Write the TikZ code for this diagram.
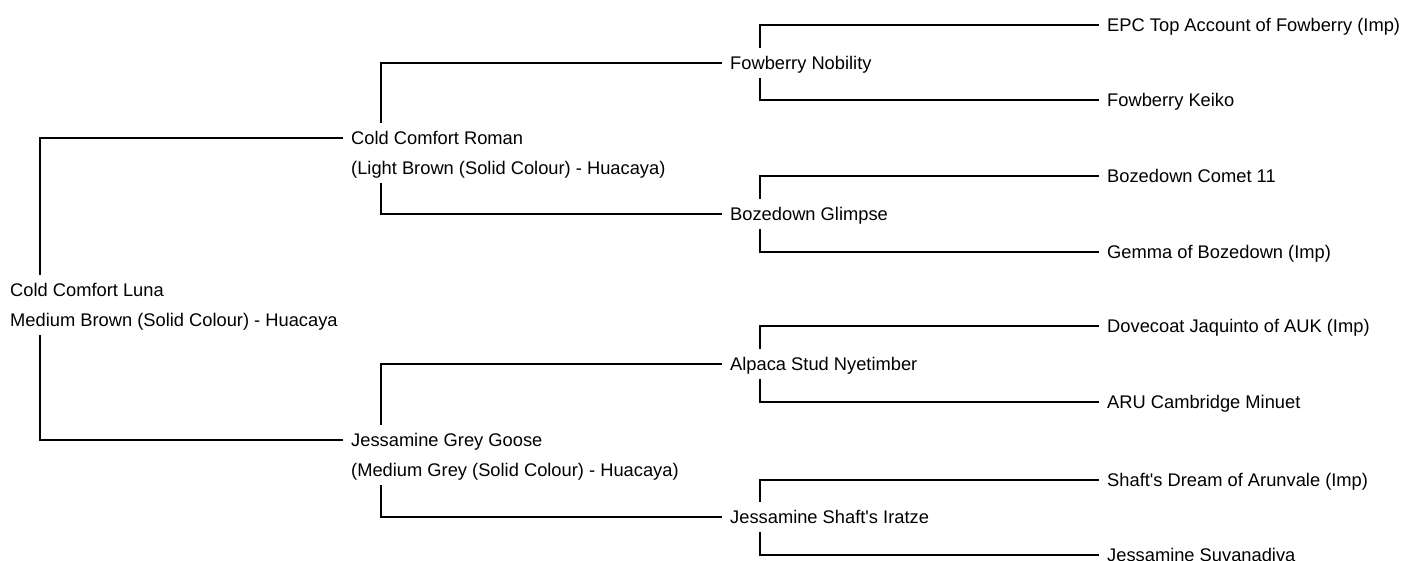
\documentclass[tikz,border=0pt]{standalone}
\usepackage{fontspec}
\setmainfont{Liberation Sans}
\begin{document}
\begin{tikzpicture}[x=1pt,y=-1pt,
  lbl/.style={anchor=base west,inner xsep=8pt,inner ysep=8.4pt,text height=13.2pt,text depth=0pt,
    font=\fontsize{18.3}{22}\selectfont},
  link/.style={draw=black,line width=1.3pt}]
\useasboundingbox (0,0) rectangle (1408,561);
% generation 0
\node[lbl] (luna) at (2,296.6) {Cold Comfort Luna};
\node[lbl] (luna2) at (2,326.6) {Medium Brown (Solid Colour) - Huacaya};
% generation 1
\node[lbl] (roman) at (343,144.6) {Cold Comfort Roman};
\node[lbl] (roman2) at (343,174.6) {(Light Brown (Solid Colour) - Huacaya)};
\node[lbl] (grey) at (343,446.6) {Jessamine Grey Goose};
\node[lbl] (grey2) at (343,476.6) {(Medium Grey (Solid Colour) - Huacaya)};
% generation 2
\node[lbl] (fow) at (722,69.6) {Fowberry Nobility};
\node[lbl] (boz) at (722,220.6) {Bozedown Glimpse};
\node[lbl] (alp) at (722,370.6) {Alpaca Stud Nyetimber};
\node[lbl] (ira) at (722,523.6) {Jessamine Shaft\textquotesingle s Iratze};
% generation 3
\node[lbl] (epc) at (1099,31.6) {EPC Top Account of Fowberry (Imp)};
\node[lbl] (keiko) at (1099,106.6) {Fowberry Keiko};
\node[lbl] (comet) at (1099,182.6) {Bozedown Comet 11};
\node[lbl] (gemma) at (1099,258.6) {Gemma of Bozedown (Imp)};
\node[lbl] (dove) at (1099,332.6) {Dovecoat Jaquinto of AUK (Imp)};
\node[lbl] (aru) at (1099,408.6) {ARU Cambridge Minuet};
\node[lbl] (shaft) at (1099,486.6) {Shaft\textquotesingle s Dream of Arunvale (Imp)};
\node[lbl] (suva) at (1099,561.6) {Jessamine Suvanadiva};
% connectors
\draw[link] (roman.west) -| ([xshift=38pt]luna.north west);
\draw[link] (grey.west) -| ([xshift=38pt]luna2.south west);
\draw[link] (fow.west) -| ([xshift=38pt]roman.north west);
\draw[link] (boz.west) -| ([xshift=38pt]roman2.south west);
\draw[link] (alp.west) -| ([xshift=38pt]grey.north west);
\draw[link] (ira.west) -| ([xshift=38pt]grey2.south west);
\draw[link] (epc.west) -| ([xshift=38pt]fow.north west);
\draw[link] (keiko.west) -| ([xshift=38pt]fow.south west);
\draw[link] (comet.west) -| ([xshift=38pt]boz.north west);
\draw[link] (gemma.west) -| ([xshift=38pt]boz.south west);
\draw[link] (dove.west) -| ([xshift=38pt]alp.north west);
\draw[link] (aru.west) -| ([xshift=38pt]alp.south west);
\draw[link] (shaft.west) -| ([xshift=38pt]ira.north west);
\draw[link] (suva.west) -| ([xshift=38pt]ira.south west);
\end{tikzpicture}
\end{document}
